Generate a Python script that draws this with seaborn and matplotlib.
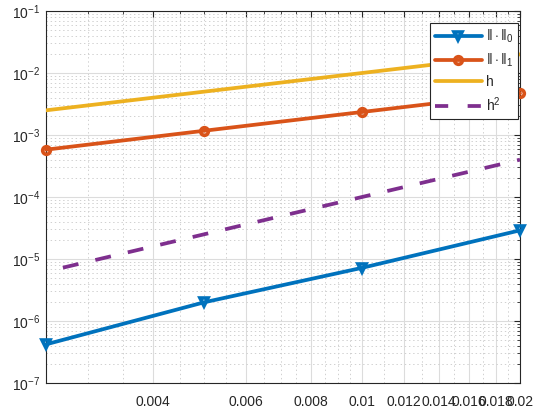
import numpy as np
import pandas as pd
import matplotlib
matplotlib.use("Agg")
import matplotlib.pyplot as plt
import seaborn as sns
from matplotlib.ticker import FixedLocator, NullFormatter, LogLocator

# mesh sizes and error norms
h = [0.0025, 0.005, 0.01, 0.02]
err_l2 = [4.2e-7, 2.0e-6, 7.2e-6, 2.9e-5]
err_h1 = [5.8e-4, 1.17e-3, 2.35e-3, 4.7e-3]
ref_h = h
ref_h2 = [v * v for v in h]

series_labels = [r"$\|\cdot\|_0$", r"$\|\cdot\|_1$", "h", r"h$^2$"]
xtick_values = [0.004, 0.006, 0.008, 0.01, 0.012, 0.014, 0.016, 0.018, 0.02]
xtick_labels = ["0.004", "0.006", "0.008", "0.01", "0.012", "0.014", "0.016", "0.018", "0.02"]

sns.set_style("white")
plt.rcParams["font.family"] = ["Liberation Sans", "DejaVu Sans"]
plt.rcParams["mathtext.fontset"] = "custom"
plt.rcParams["mathtext.rm"] = "Liberation Sans"
plt.rcParams["mathtext.it"] = "Liberation Sans"
plt.rcParams["lines.scale_dashes"] = False

blue, orange, yellow, purple = "#0072BD", "#D95319", "#EDB120", "#7E2F8E"
txt = "#262626"

df = pd.DataFrame({"h": h, "e0": err_l2, "e1": err_h1, "r1": ref_h, "r2": ref_h2})

fig = plt.figure(figsize=(5.34, 4.13), dpi=100)
ax = fig.add_axes([46 / 534, 1 - 383 / 413, (520 - 46) / 534, (383 - 11) / 413])

lw = 2.7
sns.lineplot(data=df, x="h", y="e0", ax=ax, color=blue, lw=lw, marker="v",
             markersize=5.5, markeredgewidth=2.6, markerfacecolor="none",
             markeredgecolor=blue, label=series_labels[0], clip_on=False, zorder=5)
sns.lineplot(data=df, x="h", y="e1", ax=ax, color=orange, lw=lw, marker="o",
             markersize=5.5, markeredgewidth=2.6, markerfacecolor="none",
             markeredgecolor=orange, label=series_labels[1], clip_on=False, zorder=5)
sns.lineplot(data=df, x="h", y="r1", ax=ax, color=yellow, lw=lw,
             label=series_labels[2], zorder=4)
sns.lineplot(data=df, x="h", y="r2", ax=ax, color=purple, lw=lw,
             label=series_labels[3], zorder=4)
ax.lines[-1].set_linestyle((11.5, (11.5, 12.5)))

ax.set_xscale("log")
ax.set_yscale("log")
ax.set_xlim(0.0025, 0.02)
ax.set_ylim(1e-7, 1e-1)

ax.xaxis.set_major_locator(FixedLocator(xtick_values))
ax.set_xticklabels(xtick_labels)
minor_x = [0.003, 0.0035, 0.0045, 0.005, 0.0055, 0.0065, 0.007, 0.0075, 0.0085, 0.009,
           0.0095, 0.011, 0.013, 0.015, 0.017, 0.019]
ax.xaxis.set_minor_locator(FixedLocator(minor_x))
ax.xaxis.set_minor_formatter(NullFormatter())
ax.yaxis.set_major_locator(LogLocator(base=10, numticks=10))
ax.yaxis.set_minor_locator(LogLocator(base=10, subs=np.arange(2, 10), numticks=20))
ax.yaxis.set_minor_formatter(NullFormatter())

ax.grid(which="major", color="#dcdcdc", lw=0.8, ls="-")
ax.grid(which="minor", color="#d0d0d0", lw=0.7, ls=(0, (1, 2)))
ax.set_axisbelow(True)

ax.tick_params(which="both", direction="in", top=True, right=True, colors=txt,
               labelsize=10)
ax.tick_params(which="major", length=4, width=0.8)
ax.tick_params(which="minor", length=2.5, width=0.6)
ax.tick_params(axis="x", pad=9)
ax.tick_params(axis="y", pad=4)
for s in ax.spines.values():
    s.set_color(txt)
    s.set_linewidth(0.8)

ax.set_xlabel("")
ax.set_ylabel("")

leg = ax.legend(loc="upper right", bbox_to_anchor=(0.996, 0.968), fontsize=10,
                frameon=True, fancybox=False, edgecolor=txt, framealpha=1,
                handlelength=3.4, handletextpad=0.3, borderpad=0.35,
                labelspacing=0.45, borderaxespad=0)
leg.get_frame().set_linewidth(0.8)
leg.get_lines()[3].set_linestyle((0, (9.5, 14)))
for t in leg.get_texts():
    t.set_color(txt)

fig.savefig("out.png", dpi=100)
